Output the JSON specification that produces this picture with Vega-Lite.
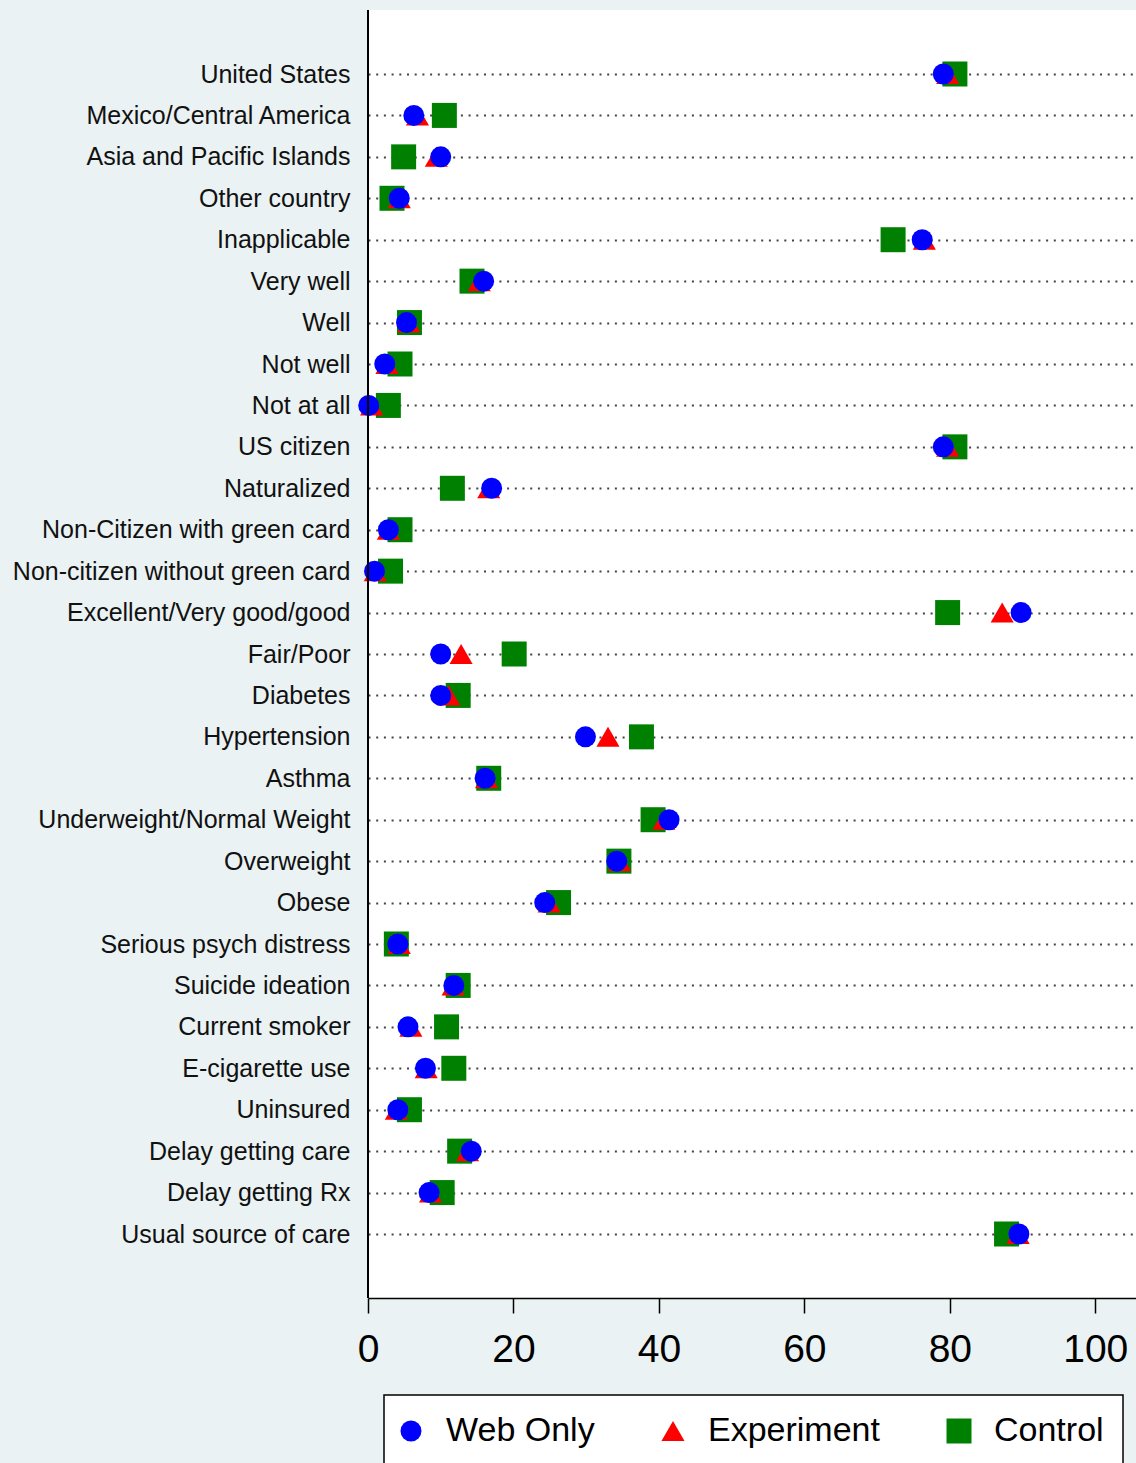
{
  "$schema": "https://vega.github.io/schema/vega-lite/v6.json",
  "width": 768,
  "height": 1288,
  "autosize": {"type": "none"},
  "padding": {"left": 368, "top": 10, "right": 0, "bottom": 165},
  "background": "#EAF2F3",
  "view": {"stroke": null, "fill": "white"},
  "config": {"font": "Liberation Sans"},
  "data": {"values": [
    {"cat": "United States", "web": 79.1, "exp": 79.7, "ctl": 80.7},
    {"cat": "Mexico/Central America", "web": 6.3, "exp": 6.8, "ctl": 10.5},
    {"cat": "Asia and Pacific Islands", "web": 10.0, "exp": 9.4, "ctl": 4.9},
    {"cat": "Other country", "web": 4.3, "exp": 4.3, "ctl": 3.3},
    {"cat": "Inapplicable", "web": 76.2, "exp": 76.5, "ctl": 72.2},
    {"cat": "Very well", "web": 15.9, "exp": 15.3, "ctl": 14.3},
    {"cat": "Well", "web": 5.3, "exp": 5.6, "ctl": 5.7},
    {"cat": "Not well", "web": 2.3, "exp": 2.6, "ctl": 4.4},
    {"cat": "Not at all", "web": 0.1, "exp": 0.5, "ctl": 2.8},
    {"cat": "US citizen", "web": 79.1, "exp": 79.7, "ctl": 80.7},
    {"cat": "Naturalized", "web": 17.0, "exp": 16.6, "ctl": 11.6},
    {"cat": "Non-Citizen with green card", "web": 2.8, "exp": 2.8, "ctl": 4.4},
    {"cat": "Non-citizen without green card", "web": 0.9, "exp": 1.0, "ctl": 3.1},
    {"cat": "Excellent/Very good/good", "web": 89.8, "exp": 87.2, "ctl": 79.7},
    {"cat": "Fair/Poor", "web": 10.0, "exp": 12.8, "ctl": 20.1},
    {"cat": "Diabetes", "web": 10.0, "exp": 11.1, "ctl": 12.4},
    {"cat": "Hypertension", "web": 29.9, "exp": 33.0, "ctl": 37.6},
    {"cat": "Asthma", "web": 16.1, "exp": 16.3, "ctl": 16.6},
    {"cat": "Underweight/Normal Weight", "web": 41.4, "exp": 40.7, "ctl": 39.2},
    {"cat": "Overweight", "web": 34.2, "exp": 34.6, "ctl": 34.5},
    {"cat": "Obese", "web": 24.3, "exp": 24.9, "ctl": 26.2},
    {"cat": "Serious psych distress", "web": 4.1, "exp": 4.3, "ctl": 3.9},
    {"cat": "Suicide ideation", "web": 11.8, "exp": 11.7, "ctl": 12.4},
    {"cat": "Current smoker", "web": 5.5, "exp": 5.9, "ctl": 10.8},
    {"cat": "E-cigarette use", "web": 7.9, "exp": 8.0, "ctl": 11.8},
    {"cat": "Uninsured", "web": 4.1, "exp": 3.9, "ctl": 5.7},
    {"cat": "Delay getting care", "web": 14.2, "exp": 13.7, "ctl": 12.6},
    {"cat": "Delay getting Rx", "web": 8.4, "exp": 8.6, "ctl": 10.2},
    {"cat": "Usual source of care", "web": 89.5, "exp": 89.4, "ctl": 87.8}
  ]},
  "layer": [
    {
      "transform": [
        {"fold": ["ctl", "exp", "web"], "as": ["key", "value"]},
        {"lookup": "key", "from": {"data": {"values": [
          {"key": "web", "grp": "Web Only"},
          {"key": "exp", "grp": "Experiment"},
          {"key": "ctl", "grp": "Control"}
        ]}, "key": "key", "fields": ["grp"]}}
      ],
      "mark": {"type": "point", "filled": true, "opacity": 1, "strokeWidth": 0},
      "encoding": {
        "y": {
          "field": "cat", "type": "nominal", "sort": null, "title": null,
          "scale": {"type": "point", "padding": 0, "range": [64, 1224]},
          "axis": {
            "ticks": false, "labelPadding": 18, "labelFontSize": 25, "labelColor": "#111",
            "labelFont": "Liberation Sans", "labelLimit": 500, "domain": false,
            "grid": true, "gridDash": [2, 5.7], "gridColor": "#444", "gridWidth": 1.8
          }
        },
        "x": {
          "field": "value", "type": "quantitative", "title": null,
          "scale": {"domain": [0, 105.6], "nice": false, "zero": true},
          "axis": {
            "values": [0, 20, 40, 60, 80, 100], "grid": false,
            "tickSize": 15, "tickWidth": 1.5, "tickColor": "#000",
            "domainColor": "#000", "domainWidth": 1.5,
            "labelFontSize": 39, "labelPadding": 17, "labelColor": "#000",
            "labelFlush": false, "labelOverlap": false, "labelFont": "Liberation Sans"
          }
        },
        "color": {
          "field": "grp", "type": "nominal",
          "scale": {"domain": ["Web Only", "Experiment", "Control"], "range": ["#0000FF", "#FF0000", "#008000"]},
          "legend": {
            "title": null,
            "orient": "none", "direction": "horizontal", "columns": 3,
            "legendX": 16, "legendY": 1385,
            "fillColor": "white", "strokeColor": "#000",
            "padding": 19, "columnPadding": 66,
            "labelFontSize": 34, "labelFont": "Liberation Sans", "labelColor": "#000", "labelLimit": 400,
            "labelOffset": 18, "symbolOffset": -9,
            "symbolSize": 420, "symbolStrokeWidth": 0, "symbolOpacity": 1,
            "encode": {"legend": {"update": {"strokeWidth": {"value": 1.5}}}}
          }
        },
        "shape": {
          "field": "grp", "type": "nominal",
          "scale": {"domain": ["Web Only", "Experiment", "Control"], "range": ["circle", "triangle-up", "square"]}
        },
        "size": {
          "field": "grp", "type": "nominal",
          "scale": {"domain": ["Web Only", "Experiment", "Control"], "range": [440, 625, 530]},
          "legend": null
        }
      }
    },
    {
      "mark": {"type": "rule", "color": "#000", "strokeWidth": 1.5},
      "encoding": {"x": {"datum": 0}}
    }
  ]
}
